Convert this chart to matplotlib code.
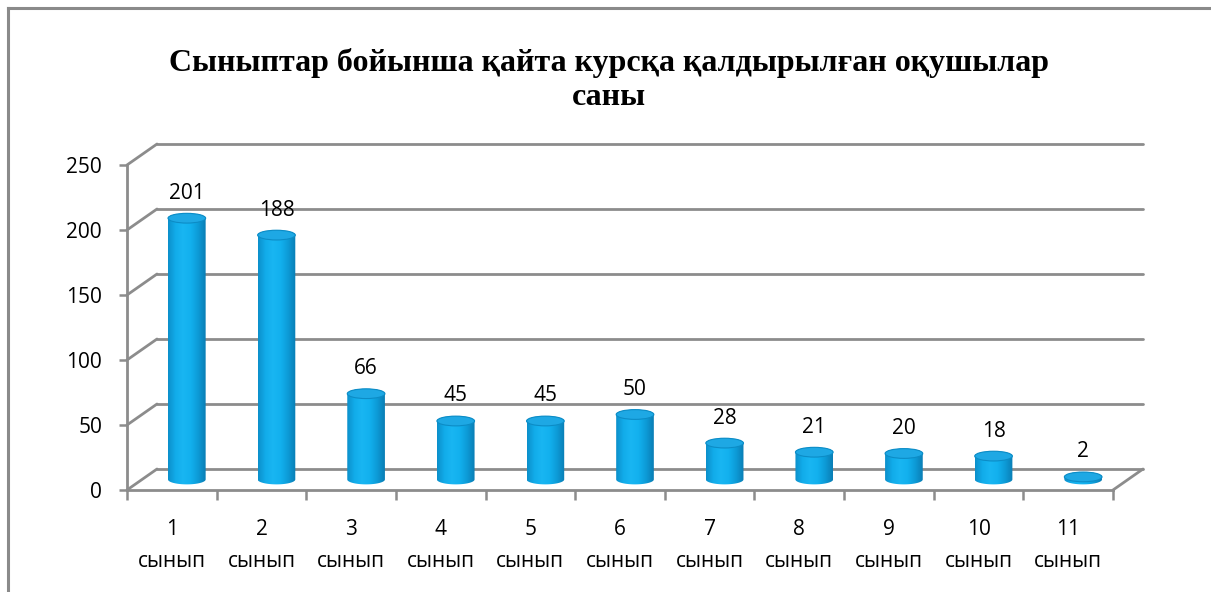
import numpy as np
import matplotlib
matplotlib.use("Agg")
import matplotlib.pyplot as plt
from matplotlib.patches import Ellipse, PathPatch
from matplotlib.path import Path
from matplotlib.colors import LinearSegmentedColormap

# Данные
classes = ["1", "2", "3", "4", "5", "6", "7", "8", "9", "10", "11"]
values = [201, 188, 66, 45, 45, 50, 28, 21, 20, 18, 2]
y_ticks = [0, 50, 100, 150, 200, 250]
title = "Сыныптар бойынша қайта курсқа қалдырылған оқушылар\nсаны"

txt_font = ["Open Sans", "DejaVu Sans"]
grid_color = "#8c8c8c"
fs = 15

fig = plt.figure(figsize=(12.11, 5.92), dpi=100)

# Рамка диаграммы
fig.add_artist(plt.Line2D([0.0062, 0.0062], [0, 0.986], color="#8a8a8a", lw=2.2, transform=fig.transFigure))
fig.add_artist(plt.Line2D([0.0062, 1.0], [0.986, 0.986], color="#8a8a8a", lw=2.2, transform=fig.transFigure))

# Оси - передний прямоугольник
ax = fig.add_axes([127 / 1211, (592 - 490) / 592, 986 / 1211, 325 / 592])
ax.set_xlim(-0.5, len(classes) - 0.5)
ax.set_ylim(0, 250)
for s in ax.spines.values():
    s.set_visible(False)

# Смещение по глубине (псевдо-3D)
dx = 30 / 89.6
dy = 21 / 1.3
x0 = -0.5
x1 = len(classes) - 0.5

# Задняя стенка и боковые линии сетки
for v in y_ticks:
    ax.plot([x0 + dx, x1 + dx], [v + dy, v + dy], color=grid_color, lw=2, clip_on=False, zorder=1,
            solid_capstyle="round")
    ax.plot([x0, x0 + dx], [v, v + dy], color=grid_color, lw=2, clip_on=False, zorder=1,
            solid_capstyle="round")
# Пол
ax.plot([x0, x1], [0, 0], color=grid_color, lw=2, clip_on=False, zorder=1)
ax.plot([x1, x1 + dx], [0, dy], color=grid_color, lw=2, clip_on=False, zorder=1,
        solid_capstyle="round")
ax.plot([x0, x0], [0, 250], color=grid_color, lw=2, clip_on=False, zorder=1)

# Цилиндры
cmap = LinearSegmentedColormap.from_list("cyl", ["#0b8fca", "#12acea", "#19b6f2", "#12b0ee", "#0d9ad6", "#0a7db4"])
grad = np.linspace(0, 1, 256).reshape(1, -1)
bw = 0.42
eh = 7.5
for i, v in enumerate(values):
    cx = i + dx / 2
    base = dy / 2
    top = v + dy / 2
    left, right = cx - bw / 2, cx + bw / 2
    # тело: прямоугольник + нижняя половина эллипса
    t = np.linspace(np.pi, 2 * np.pi, 40)
    bottom_arc = np.column_stack([cx + bw / 2 * np.cos(t), base + eh / 2 * np.sin(t)])
    t2 = np.linspace(0, np.pi, 40)
    top_arc = np.column_stack([cx + bw / 2 * np.cos(t2), top + eh / 2 * np.sin(t2)])
    verts = np.vstack([bottom_arc, top_arc, bottom_arc[:1]])
    body = PathPatch(Path(verts), facecolor="none", edgecolor="none", transform=ax.transData)
    ax.add_patch(body)
    body.set_clip_on(False)
    im = ax.imshow(grad, cmap=cmap, aspect="auto", extent=[left, right, base - eh, top + eh],
                   zorder=3, interpolation="bilinear")
    im.set_clip_path(body)
    top_e = Ellipse((cx, top), bw, eh, facecolor="#1ea8e4", edgecolor="#0c8cc6", lw=0.8,
                    zorder=4, clip_on=False)
    ax.add_patch(top_e)
    ax.annotate(str(v), (cx, top + eh / 2), xytext=(0, 7), textcoords="offset points",
                ha="center", va="bottom", fontsize=fs, family=txt_font, zorder=5,
                annotation_clip=False)

ax.set_xlim(-0.5, len(classes) - 0.5)
ax.set_ylim(0, 250)

# Подписи осей
ax.set_yticks(y_ticks)
ax.set_yticklabels([str(v) for v in y_ticks], fontsize=fs, family=txt_font)
ax.tick_params(axis="y", length=6, width=1.8, color=grid_color, pad=12)
ax.set_xticks(range(len(classes)))
ax.set_xticklabels([c + "\nсынып" for c in classes], fontsize=fs, family=txt_font,
                   linespacing=1.7)
ax.tick_params(axis="x", which="major", length=0, pad=21)
ax.set_xticks(np.arange(-0.5, len(classes)), minor=True)
ax.tick_params(axis="x", which="minor", length=7, width=1.8, color=grid_color)

fig.text(0.503, 0.865, title, ha="center", va="center", fontsize=23, fontweight="bold",
         family="Liberation Serif", linespacing=1.25)

fig.savefig("out.png", dpi=100)
